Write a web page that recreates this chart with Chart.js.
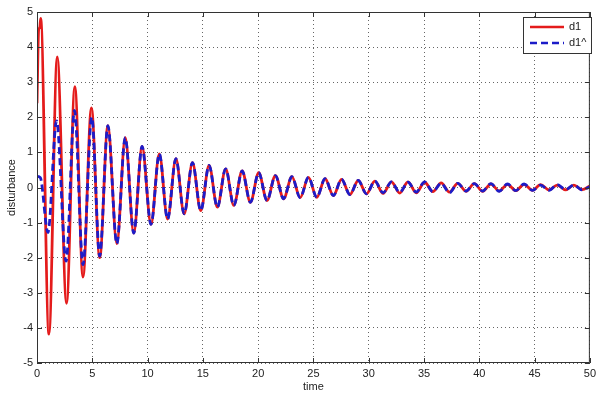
<!DOCTYPE html>
<html>
<head>
<meta charset="utf-8">
<title>disturbance</title>
<script src="https://cdn.jsdelivr.net/npm/chart.js@4/dist/chart.umd.min.js"></script>
<style>
  html, body { margin: 0; padding: 0; background: #fff; }
  #chart { display: block; }
</style>
</head>
<body>
<canvas id="chart" width="600" height="394"></canvas>
<script>
/* ==============================
   DATA (peaks and troughs)
============================== */
const xTicks = [0, 5, 10, 15, 20, 25, 30, 35, 40, 45, 50];
const yTicks = [-5, -4, -3, -2, -1, 0, 1, 2, 3, 4, 5];

const d1Time = [0, 0.15, 0.25, 0.33,
    1.08, 1.83, 2.67, 3.42, 4.16, 4.92, 5.67, 6.41, 7.22, 7.98,
    8.75, 9.5, 10.31, 11.06, 11.81, 12.56, 13.31, 14.06, 14.81, 15.56,
    16.31, 17.06, 17.8, 18.55, 19.3, 20.05, 20.8, 21.56, 22.3, 23.05,
    23.8, 24.55, 25.3, 26.05, 26.8, 27.54, 28.3, 29.05, 29.8, 30.55,
    31.3, 32.05, 32.8, 33.55, 34.3, 35.05, 35.8, 36.55, 37.3, 38.05,
    38.8, 39.55, 40.3, 41.05, 41.8, 42.55, 43.3, 44.05, 44.8, 45.55,
    46.3, 47.05, 47.8, 48.55, 49.3, 50];
const d1Value = [2.4, 4.5, 4.55, 4.82,
    -4.18, 3.72, -3.3, 2.87, -2.55, 2.27, -2.0, 1.76, -1.6, 1.42,
    -1.3, 1.17, -1.05, 0.96, -0.9, 0.82, -0.75, 0.71, -0.66, 0.63,
    -0.56, 0.53, -0.51, 0.47, -0.42, 0.42, -0.37, 0.34, -0.32, 0.31,
    -0.29, 0.29, -0.28, 0.25, -0.23, 0.23, -0.2, 0.2, -0.18, 0.18,
    -0.17, 0.16, -0.16, 0.16, -0.15, 0.15, -0.12, 0.13, -0.13, 0.12,
    -0.11, 0.11, -0.11, 0.1, -0.1, 0.09, -0.09, 0.09, -0.08, 0.08,
    -0.07, 0.07, -0.07, 0.07, -0.06, 0.04];

const d1HatTime = [0, 0.3, 0.99, 1.77, 2.63, 3.39, 4.16, 4.95, 5.67,
    6.41, 7.22, 7.98, 8.75, 9.5, 10.31, 11.06, 11.81, 12.56, 13.31,
    14.06, 14.81, 15.56, 16.31, 17.06, 17.8, 18.55, 19.3, 20.05, 20.8,
    21.56, 22.3, 23.05, 23.8, 24.55, 25.3, 26.05, 26.8, 27.54, 28.3,
    29.05, 29.8, 30.55, 31.3, 32.05, 32.8, 33.55, 34.3, 35.05, 35.8,
    36.55, 37.3, 38.05, 38.8, 39.55, 40.3, 41.05, 41.8, 42.55, 43.3,
    44.05, 44.8, 45.55, 46.3, 47.05, 47.8, 48.55, 49.3, 50];
const d1HatValue = [0.32, 0.28, -1.28, 1.9, -2.1, 2.2, -2.2, 2.0, -1.95,
    1.76, -1.6, 1.42, -1.3, 1.17, -1.05, 0.96, -0.9, 0.82, -0.75,
    0.71, -0.66, 0.63, -0.56, 0.53, -0.51, 0.47, -0.42, 0.42, -0.37,
    0.34, -0.32, 0.31, -0.29, 0.29, -0.28, 0.25, -0.23, 0.23, -0.2,
    0.2, -0.18, 0.18, -0.15, 0.16, -0.14, 0.15, -0.13, 0.16, -0.12,
    0.12, -0.15, 0.12, -0.1, 0.11, -0.1, 0.11, -0.11, 0.1, -0.09,
    0.1, -0.08, 0.07, -0.08, 0.08, -0.06, 0.07, -0.07, 0.02];

const FONT = 'Liberation Sans, Arial, sans-serif';
const RED = '#e41b1b';
const BLUE = '#1c1cc8';

function toPoints(xs, ys) {
    return xs.map((x, i) => ({ x: x, y: ys[i] }));
}

/* ==============================
   FRAME + INNER TICKS + LEGEND (matlab look)
============================== */
const matlabFrame = {
    id: 'matlabFrame',
    afterDraw(chart) {
        const { ctx, chartArea: a, scales } = chart;
        ctx.save();
        ctx.strokeStyle = '#333';
        ctx.lineWidth = 1;
        ctx.setLineDash([]);
        ctx.strokeRect(a.left + 0.5, a.top + 0.5, a.right - a.left - 1, a.bottom - a.top - 1);

        // small tick marks on the inside of all four sides
        ctx.beginPath();
        xTicks.forEach(v => {
            const px = Math.round(scales.x.getPixelForValue(v)) + 0.5;
            ctx.moveTo(px, a.bottom); ctx.lineTo(px, a.bottom - 5);
            ctx.moveTo(px, a.top); ctx.lineTo(px, a.top + 5);
        });
        yTicks.forEach(v => {
            const py = Math.round(scales.y.getPixelForValue(v)) + 0.5;
            ctx.moveTo(a.left, py); ctx.lineTo(a.left + 5, py);
            ctx.moveTo(a.right, py); ctx.lineTo(a.right - 5, py);
        });
        ctx.stroke();

        // legend box, top right
        const bx = 523, by = 17, bw = 68, bh = 36;
        ctx.fillStyle = '#fff';
        ctx.fillRect(bx, by, bw, bh);
        ctx.strokeStyle = '#333';
        ctx.strokeRect(bx + 0.5, by + 0.5, bw, bh);
        chart.data.datasets.forEach((ds, i) => {
            const y = by + 10 + i * 16;
            ctx.strokeStyle = ds.borderColor;
            ctx.lineWidth = 2.5;
            ctx.setLineDash(ds.borderDash || []);
            ctx.beginPath();
            ctx.moveTo(bx + 7, y); ctx.lineTo(bx + 41, y);
            ctx.stroke();
            ctx.setLineDash([]);
            ctx.fillStyle = '#222';
            ctx.font = '11px ' + FONT;
            ctx.textBaseline = 'middle';
            ctx.fillText(ds.label, bx + 46, y);
        });
        ctx.restore();
    }
};

/* ==============================
   CHART
============================== */
new Chart(document.getElementById('chart').getContext('2d'), {
    type: 'line',
    data: {
        datasets: [{
            label: 'd1',
            data: toPoints(d1Time, d1Value),
            borderColor: RED,
            borderWidth: 2.8,
            cubicInterpolationMode: 'monotone',
            pointRadius: 0,
            order: 2
        }, {
            label: 'd1^',
            data: toPoints(d1HatTime, d1HatValue),
            borderColor: BLUE,
            borderWidth: 2.8,
            borderDash: [7, 4],
            cubicInterpolationMode: 'monotone',
            pointRadius: 0,
            order: 1
        }]
    },
    options: {
        responsive: false,
        animation: false,
        devicePixelRatio: 1,
        layout: { padding: { top: 12, right: 6, left: 0, bottom: 0 } },
        plugins: {
            legend: { display: false },
            tooltip: { enabled: false }
        },
        scales: {
            x: {
                type: 'linear',
                min: 0,
                max: 50,
                afterBuildTicks: s => { s.ticks = xTicks.map(v => ({ value: v })); },
                afterFit: s => { s.height = 31; },
                ticks: { color: '#222', font: { family: FONT, size: 11 }, padding: 4, maxRotation: 0 },
                grid: { color: '#666', lineWidth: 1, drawTicks: false },
                border: { display: false, dash: [1, 3] },
                title: { display: true, text: 'time', color: '#222', font: { family: FONT, size: 11 }, padding: { top: 0, bottom: 0 } }
            },
            y: {
                min: -5,
                max: 5,
                afterBuildTicks: s => { s.ticks = yTicks.map(v => ({ value: v })); },
                afterFit: s => { s.width = 37; },
                ticks: { color: '#222', font: { family: FONT, size: 11 }, padding: 4 },
                grid: { color: '#666', lineWidth: 1, drawTicks: false },
                border: { display: false, dash: [1, 3] },
                title: { display: true, text: 'disturbance', color: '#222', font: { family: FONT, size: 11 }, padding: { top: 5, bottom: 0 } }
            }
        }
    },
    plugins: [matlabFrame]
});
</script>
</body>
</html>
